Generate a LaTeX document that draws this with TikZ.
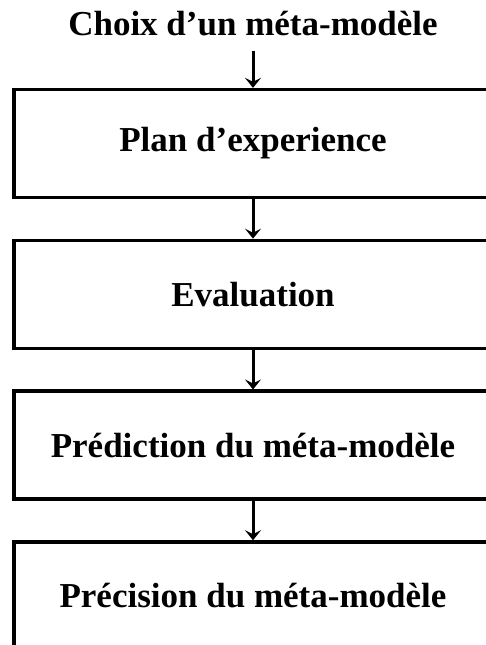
\documentclass[tikz,border=0pt]{standalone}
\usepackage{fontspec}
\setmainfont{Liberation Serif}
\usetikzlibrary{arrows.meta,positioning}
\tikzset{
  stagebox/.style = {draw=black, line width=3.3pt, minimum width=478pt,
                     minimum height=108pt, inner sep=0pt,
                     font=\fontsize{35}{42}\selectfont\bfseries},
  headtext/.style = {inner sep=0pt, font=\fontsize{35}{42}\selectfont\bfseries},
  flow/.style     = {-{Stealth[length=10pt,width=16pt,inset=4pt]}, line width=3pt},
}
\begin{document}
\begin{tikzpicture}[x=1pt,y=-1pt]
    \path[use as bounding box, clip] (0,0) rectangle (486,645);
    \node[headtext,anchor=base] (choix) at (253,35) {Choix d’un méta-modèle};
    \node[stagebox] (plan) at (253,143.5) {Plan d’experience};
    \node[stagebox,below=39.5pt of plan] (eval) {Evaluation};
    \node[stagebox,below=39.5pt of eval] (pred) {Prédiction du méta-modèle};
    \node[stagebox,below=39.5pt of pred] (prec) {Précision du méta-modèle};
    \draw[flow,shorten <=15pt] (choix.south) -- (plan.north);
    \draw[flow] (plan) -- (eval);
    \draw[flow] (eval) -- (pred);
    \draw[flow] (pred) -- (prec);
  \end{tikzpicture}
\end{document}
